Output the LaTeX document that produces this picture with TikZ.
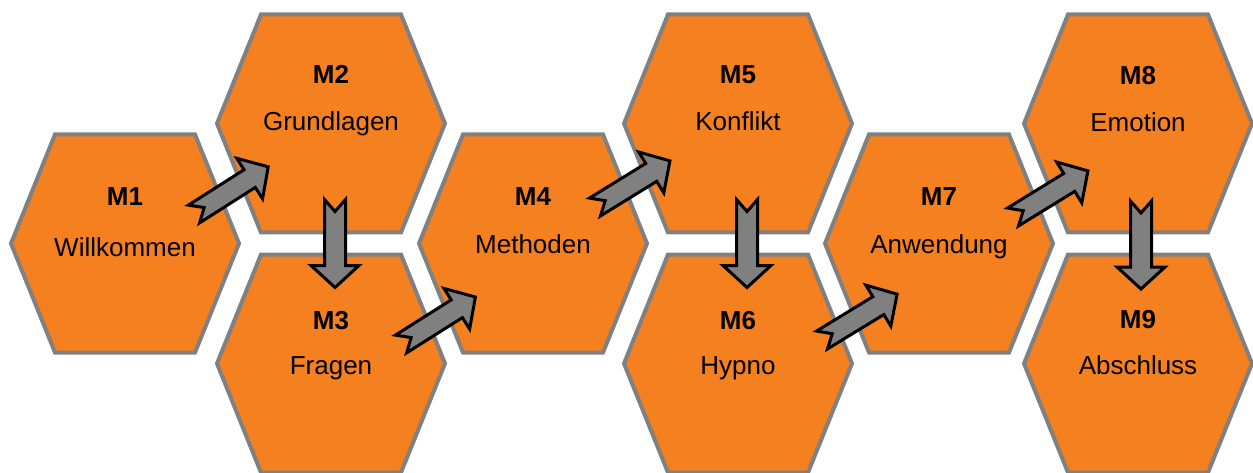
\documentclass[tikz,border=0pt]{standalone}
\usepackage{fontspec}
\setmainfont{Liberation Sans}
\usetikzlibrary{calc}
\definecolor{hexfill}{RGB}{244,128,32}
\definecolor{hexedge}{RGB}{128,128,128}
\definecolor{arrowfill}{RGB}{128,128,128}
\tikzset{
  hexline/.style={fill=hexfill, draw=hexedge, line width=4pt, line join=miter},
  hexcell/.pic={
    \filldraw[hexline] (-114,0) -- (-70,-109) -- (70,-109) -- (114,0)
      -- (70,109) -- (-70,109) -- cycle;
    \coordinate (-c) at (0,0);
  },
  modtitle/.style={font=\fontsize{26}{30}\selectfont\bfseries, anchor=base, inner sep=0pt},
  modlabel/.style={font=\fontsize{26}{30}\selectfont, anchor=base, inner sep=0pt},
  blockarrow/.style={fill=arrowfill, draw=black, line width=3pt, line join=miter}
}
% notched block arrow from coordinate #1 (tail) towards coordinate #2 (tip)
\newcommand\notcharrow[2]{%
  \draw[blockarrow] let \p1=($(#2)-(#1)$), \n1={atan2(\y1,\x1)} in
    {[shift={(#1)}, rotate=\n1]
      (0,10.5) -- (66,10.5) -- (66,24) -- (88,0) -- (66,-24) -- (66,-10.5)
      -- (0,-10.5) -- (12,0) -- cycle};
}
\begin{document}
\begin{tikzpicture}[x=1pt, y=-1pt]
\useasboundingbox (0,0) rectangle (1253,473);
\clip (0,0) rectangle (1253,473);

% honeycomb cells
\pic (m1) at (125,243.5) {hexcell};
\pic (m2) at (331,123.5) {hexcell};
\pic (m3) at (331,363.5) {hexcell};
\pic (m4) at (533,243.5) {hexcell};
\pic (m5) at (738,123.5) {hexcell};
\pic (m6) at (738,363.5) {hexcell};
\pic (m7) at (939,243.5) {hexcell};
\pic (m8) at (1138,123.5) {hexcell};
\pic (m9) at (1138,363.5) {hexcell};

% cell texts
\node[modtitle] (t1) at (125,206) {M1};
\node[modlabel] (l1) at (125,256) {Willkommen};
\node[modtitle] (t2) at (331,84) {M2};
\node[modlabel] (l2) at (331,131) {Grundlagen};
\node[modtitle] (t3) at (331,329) {M3};
\node[modlabel] (l3) at (331,374) {Fragen};
\node[modtitle] (t4) at (533,206) {M4};
\node[modlabel] (l4) at (533,254) {Methoden};
\node[modtitle] (t5) at (738,84) {M5};
\node[modlabel] (l5) at (738,131) {Konflikt};
\node[modtitle] (t6) at (738,329) {M6};
\node[modlabel] (l6) at (738,374) {Hypno};
\node[modtitle] (t7) at (939,206) {M7};
\node[modlabel] (l7) at (939,254) {Anwendung};
\node[modtitle] (t8) at (1138,85) {M8};
\node[modlabel] (l8) at (1138,132) {Emotion};
\node[modtitle] (t9) at (1138,328) {M9};
\node[modlabel] (l9) at (1138,374) {Abschluss};

% arrow ends
\coordinate (a12s) at (194,214);   \coordinate (a12e) at (271,165);
\coordinate (a23s) at (335,199.5); \coordinate (a23e) at (335,290);
\coordinate (a34s) at (401,344);   \coordinate (a34e) at (477,296);
\coordinate (a45s) at (595,207);   \coordinate (a45e) at (673,159);
\coordinate (a56s) at (747,199.5); \coordinate (a56e) at (747,290);
\coordinate (a67s) at (822,340);   \coordinate (a67e) at (899,293);
\coordinate (a78s) at (1013,217);  \coordinate (a78e) at (1091,169);
\coordinate (a89s) at (1141,201);  \coordinate (a89e) at (1141,292);

% flow arrows
\notcharrow{a12s}{a12e}
\notcharrow{a23s}{a23e}
\notcharrow{a34s}{a34e}
\notcharrow{a45s}{a45e}
\notcharrow{a56s}{a56e}
\notcharrow{a67s}{a67e}
\notcharrow{a78s}{a78e}
\notcharrow{a89s}{a89e}
\end{tikzpicture}
\end{document}
